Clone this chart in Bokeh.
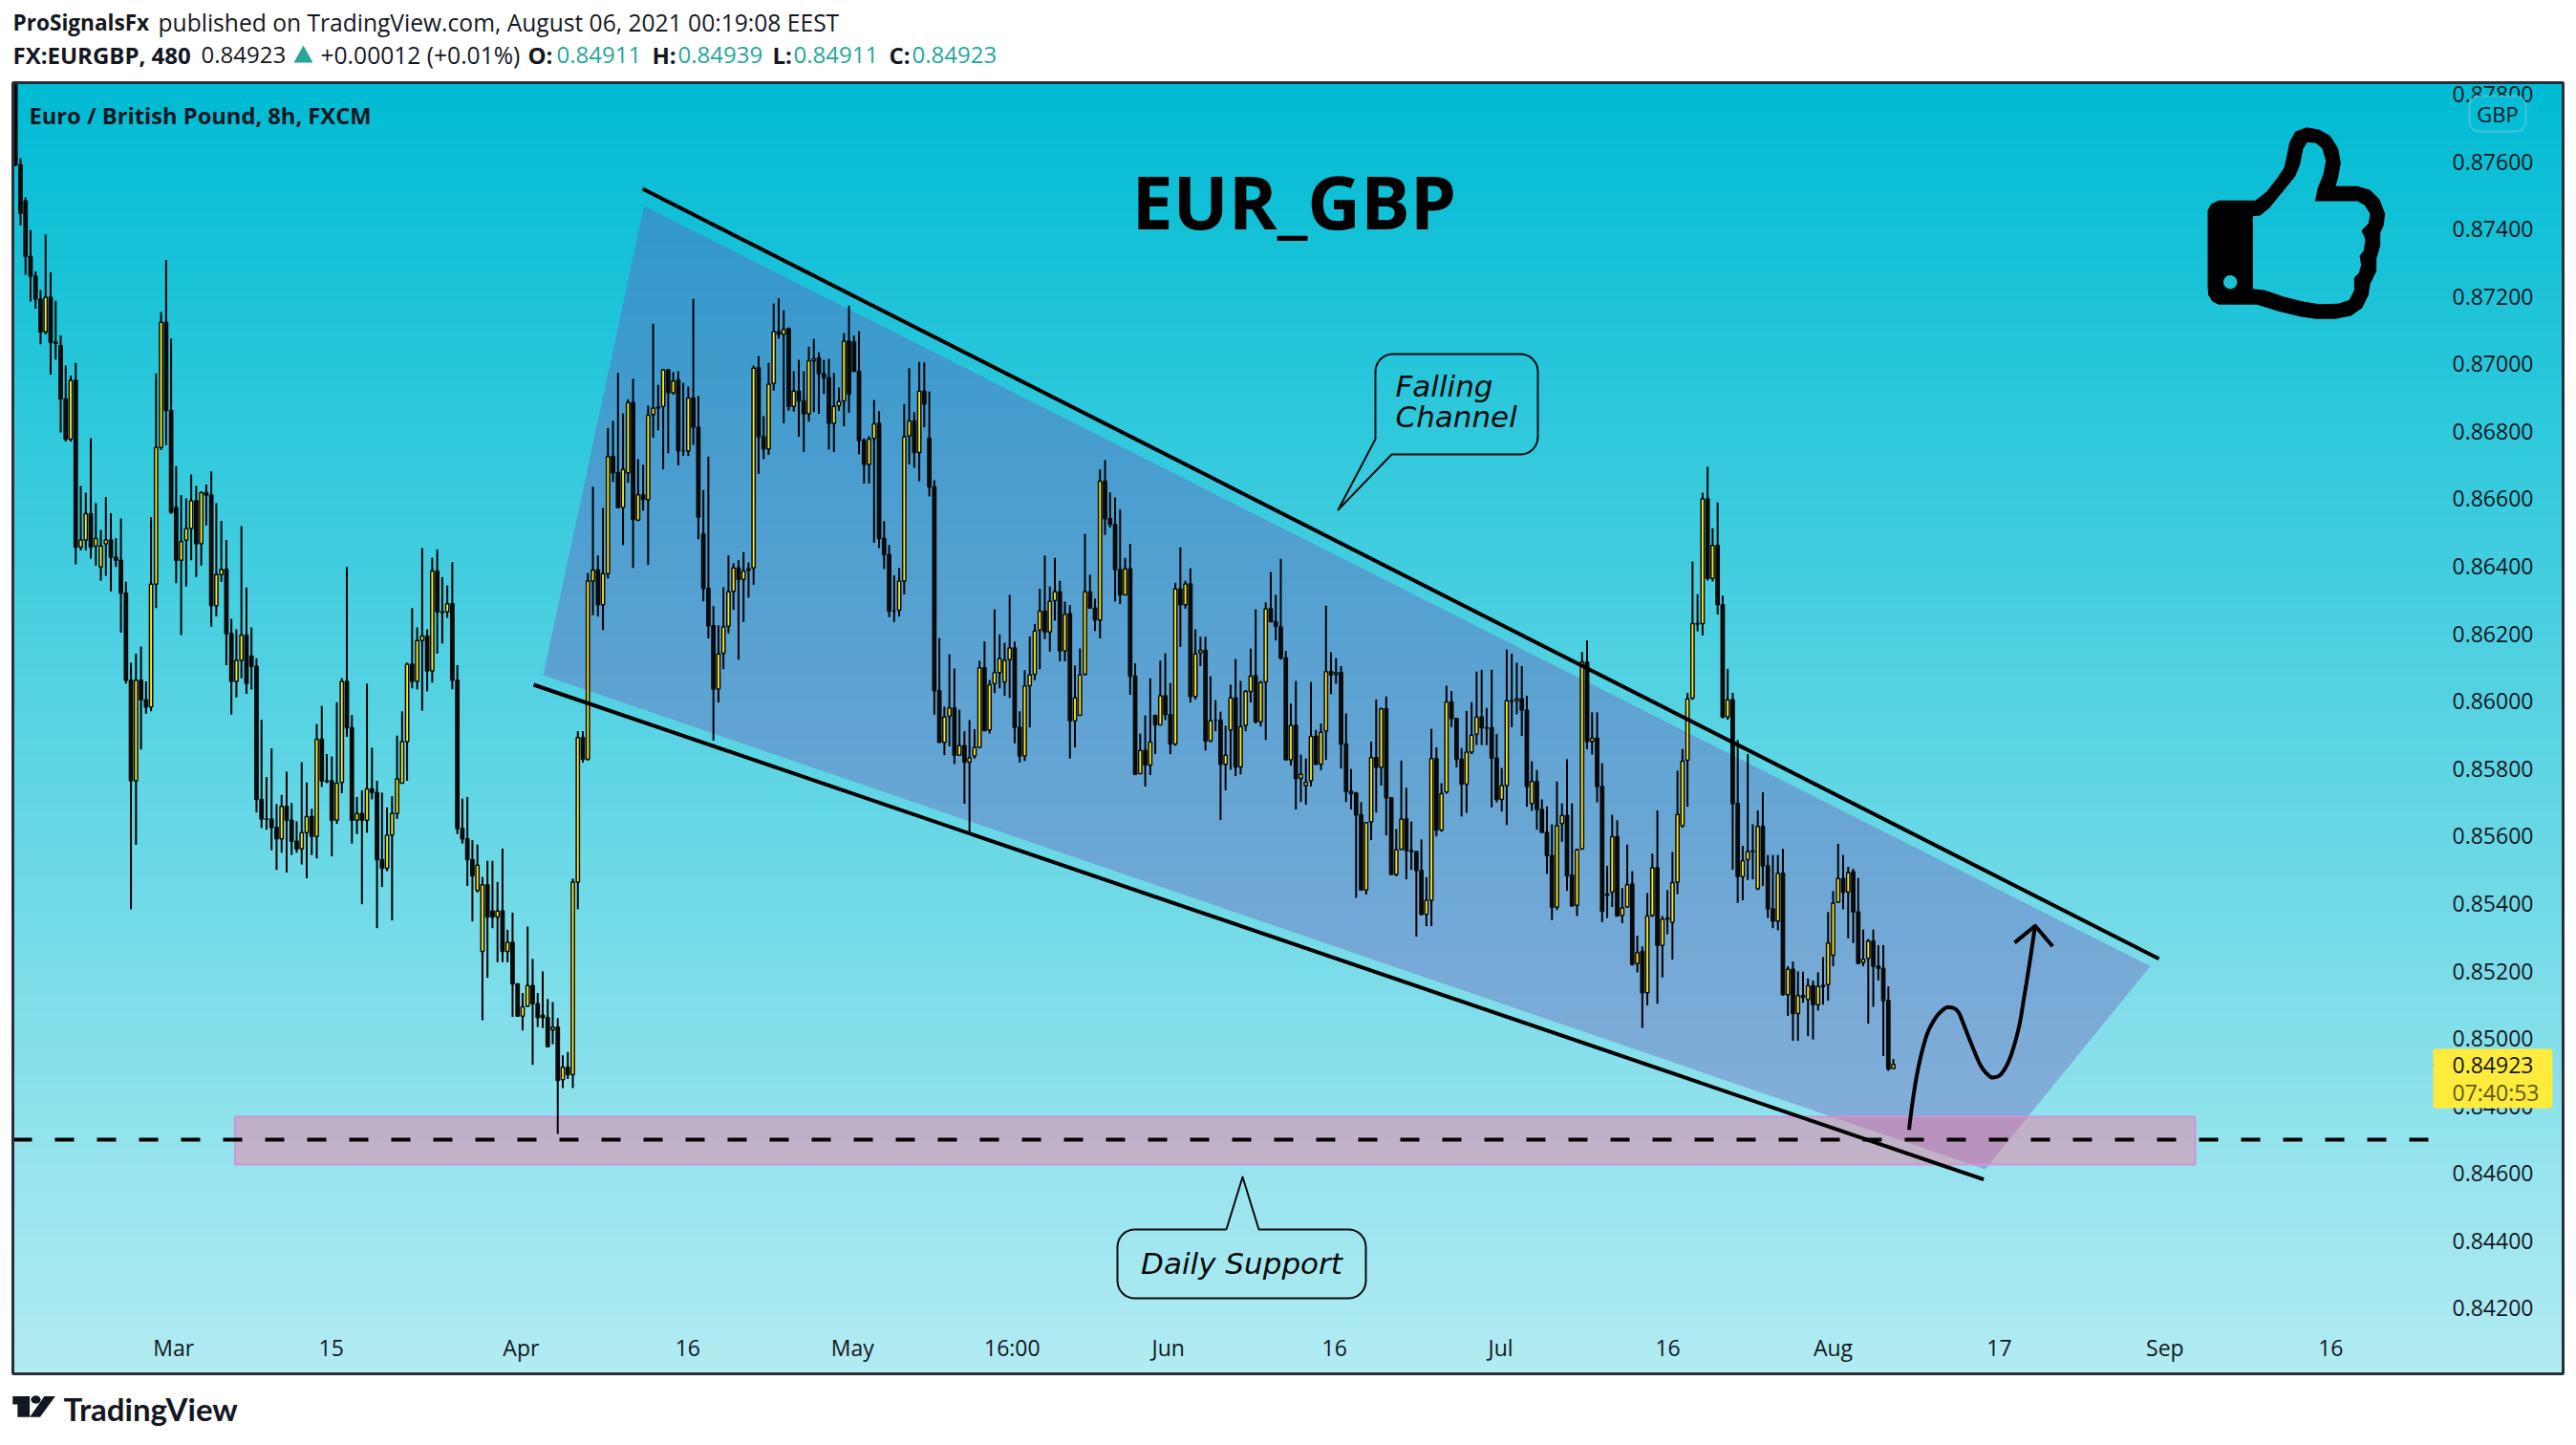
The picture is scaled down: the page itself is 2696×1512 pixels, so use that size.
import numpy as np
from bokeh.plotting import figure
from bokeh.models import (Range1d, FixedTicker, PrintfTickFormatter, Label, BoxAnnotation)
from bokeh.embed import file_html
from bokeh.resources import INLINE

# 8h candles, values in 1e-5 price units
opens = [87834,87590,87483,87319,87260,87192,87095,87198,87064,87054,
86896,86777,86951,86457,86478,86556,86460,86398,86467,86478,
86427,86418,86320,86062,85764,86062,86004,85983,86347,86752,
87123,86862,86574,86418,86477,86512,86594,86467,86618,86611,
86283,86375,86391,86200,86059,86121,86196,86134,86103,85709,
85651,85651,85626,85592,85688,85647,85585,85562,85610,85658,
85599,85887,85764,85764,85647,85759,86059,85921,85647,85667,
85647,85740,85729,85530,85505,85603,85667,85757,85880,86110,
86059,86180,86193,86090,86386,86265,86265,86289,86062,85622,
85592,85530,85439,85258,85456,85378,85360,85378,85258,85285,
85162,85066,85096,85157,85103,85069,85062,85026,85034,84878,
84915,84893,85464,85892,85828,86356,86389,86286,86378,86725,
86677,86574,86677,86885,86537,86612,86598,86850,86869,86874,
86982,86914,86952,86742,86742,86899,86812,86496,86334,86224,
86036,86142,86222,86326,86395,86361,86388,86395,86989,86784,
86748,86942,87096,87088,87105,86874,86919,86890,86852,87009,
87018,86971,86959,86824,86876,86890,87067,87065,86978,86773,
86702,86779,86824,86482,86435,86267,86270,86356,86786,86831,
86737,86919,86779,86635,86031,85878,85955,85980,85840,85868,
85819,85838,85863,86099,85915,86052,86085,86057,86123,86158,
85923,85838,86046,86080,86211,86267,86205,86298,86324,86149,
86260,85942,85958,86080,86324,86276,86241,86652,86541,86524,
86390,86315,86392,86074,85785,85854,85811,85958,85930,86016,
85960,85873,86333,86286,86348,86014,86144,86151,85882,85944,
85944,85813,85915,86010,85805,85928,86029,86076,85939,86057,
86274,86236,86220,86128,85826,85928,85771,85750,85764,85896,
85813,85911,86088,86080,86085,85873,85733,85728,85663,85440,
85642,85833,85804,85977,85714,85486,85561,85651,85557,85554,
85498,85368,85410,85830,85618,85731,85998,85949,85828,85754,
85849,85902,85953,85921,85921,85831,85709,85750,86001,86001,
86007,85974,85697,85762,85679,85611,85542,85389,85637,85661,
85484,85395,85562,86116,85881,85890,85747,85425,85434,85598,
85365,85390,85458,85222,85258,85136,85365,85506,85276,85354,
85345,85464,85631,85825,86009,86230,86230,86600,86364,86462,
86286,85953,86004,85697,85480,85530,85556,85444,85629,85512,
85384,85348,85490,85130,85205,85074,85127,85116,85156,85100,
85154,85160,85247,85404,85474,85434,85494,85375,85226,85238,
85289,85214,85208,85112,84911]

highs = [87834,87610,87494,87397,87274,87219,87384,87271,87187,87084,
86995,86965,87003,86638,86618,86780,86587,86508,86605,86557,
86484,86542,86354,86114,86141,86162,86059,86546,86972,87154,
87308,87075,86697,86611,86601,86672,86638,86622,86642,86681,
86587,86535,86478,86244,86213,86519,86337,86219,86127,85945,
85775,85860,85695,85722,85791,85698,85644,85819,85759,85681,
85932,85986,85843,85836,85997,86068,86398,85959,85716,85736,
86052,85862,85764,85729,85685,85718,85898,85970,86114,86276,
86219,86454,86213,86425,86450,86368,86343,86412,86107,85711,
85716,85588,85575,85479,85527,85527,85464,85563,85322,85373,
85115,85135,85332,85236,85135,85199,85117,85108,85060,84950,
84960,85474,85911,85911,86380,86636,86432,86573,86810,86831,
86973,86853,86895,86956,86718,86701,86876,87119,86938,86984,
86984,86976,86978,86944,86933,87193,86905,86626,86725,86282,
86225,86338,86432,86409,86418,86442,86411,86995,87023,86845,
87003,87179,87195,87159,87108,86978,87012,86978,87051,87074,
87034,87012,87015,86973,86930,87091,87173,87084,87097,86779,
86786,86893,86860,86534,86463,86373,86395,86881,86987,86857,
87006,87004,86918,86655,86187,85984,86139,86097,85975,85911,
85944,85917,86120,86177,86063,86272,86198,86173,86315,86177,
85970,86092,86192,86229,86333,86432,86340,86425,86357,86295,
86285,86106,86156,86496,86375,86304,86687,86715,86619,86604,
86569,86425,86466,86112,85904,85958,86068,85958,86120,86142,
86054,86351,86456,86357,86394,86213,86191,86191,86074,86003,
85969,85927,86049,86125,86060,86033,86156,86272,86060,86293,
86383,86315,86422,86149,85993,86060,85842,85830,86057,85915,
85934,86283,86145,86128,86104,85964,85799,85731,85701,85641,
85880,86005,85981,86014,85714,85621,85824,85743,85643,85554,
85590,85478,85918,85863,85757,86046,86030,85949,85861,85971,
85997,86088,86093,85980,86093,85903,85802,86153,86141,86114,
86104,86016,85822,85796,85709,85688,85635,85762,85697,85828,
85697,85563,86146,86180,85967,85967,85816,85512,85663,85647,
85446,85575,85496,85305,85273,85431,85548,85676,85363,85440,
85553,85794,85858,86025,86414,86317,86618,86695,86513,86589,
86313,86096,86025,85885,85571,85843,85635,85676,85730,85544,
85544,85544,85562,85214,85228,85199,85198,85178,85172,85196,
85241,85375,85437,85577,85544,85509,85503,85476,85323,85295,
85323,85277,85277,85154,84939]

lows = [87586,87411,87264,87185,87164,87058,87088,86968,87013,86797,
86770,86770,86406,86447,86447,86423,86402,86357,86372,86326,
86398,86203,86052,85383,85574,85857,85963,85970,86276,86745,
86759,86556,86350,86196,86340,86418,86368,86402,86521,86221,
86251,86354,86107,85960,86011,86068,86022,86035,85670,85624,
85619,85558,85500,85551,85492,85544,85551,85516,85475,85544,
85534,85746,85757,85540,85636,85727,85894,85578,85606,85398,
85610,85709,85327,85449,85496,85350,85651,85757,85764,86038,
86035,85972,86029,86055,86141,86171,86247,86035,85606,85578,
85452,85347,85433,85054,85180,85327,85226,85226,85226,85064,
85064,85024,85094,84922,85034,85031,84973,84983,84717,84853,
84880,84853,85383,85818,85824,86255,86251,86211,86364,86650,
86572,86463,86647,86395,86534,86565,86404,86781,86803,86687,
86735,86909,86699,86727,86727,86760,86480,86296,86186,85883,
85996,86095,86201,86271,86123,86235,86307,86345,86674,86718,
86730,86921,87075,86824,86861,86859,86784,86739,86829,86857,
86852,86911,86746,86739,86861,86815,86855,86978,86732,86645,
86645,86470,86454,86392,86249,86235,86251,86317,86702,86692,
86652,86812,86607,85960,85878,85840,85866,85814,85840,85696,
85613,85830,85861,85911,85904,86024,86038,86016,86010,85875,
85818,85823,85922,86062,86095,86184,86147,86239,86118,86118,
85830,85863,85958,86076,86274,86208,86186,86493,86515,86296,
86288,86315,86019,85783,85785,85747,85781,85843,85930,85944,
85843,85868,86161,86274,85996,86005,86104,85854,85878,85911,
85648,85736,85797,85778,85783,85911,85996,85934,85925,85885,
86234,86180,86123,85826,85809,85679,85701,85693,85747,85813,
85795,85826,86021,86052,85800,85701,85679,85417,85439,85427,
85588,85670,85750,85602,85486,85481,85559,85472,85500,85302,
85365,85333,85333,85599,85613,85726,85923,85804,85658,85669,
85843,85870,85870,85870,85685,85700,85673,85633,85923,85961,
85897,85687,85675,85619,85611,85488,85351,85381,85583,85438,
85393,85363,85559,85858,85842,85700,85345,85357,85390,85363,
85342,85387,85216,85196,85031,85098,85360,85103,85181,85309,
85234,85428,85625,85687,86004,86207,86195,86358,86355,86257,
85949,85945,85500,85402,85410,85470,85472,85440,85452,85357,
85327,85321,85127,85067,84993,84993,85106,85007,84997,85083,
85100,85112,85214,85402,85383,85297,85283,85220,85214,85044,
85094,85172,84948,84904,84911]

closes = [87590,87446,87319,87260,87192,87095,87198,87064,87061,86896,
86777,86951,86457,86478,86556,86457,86482,86460,86478,86427,
86418,86320,86062,85764,86062,86004,85983,86347,86752,87123,
86862,86560,86418,86473,86512,86594,86467,86618,86611,86283,
86375,86391,86200,86059,86121,86196,86052,86103,85709,85651,
85650,85626,85592,85688,85647,85585,85562,85610,85658,85599,
85887,85764,85762,85647,85757,86059,85921,85647,85667,85647,
85740,85729,85530,85505,85603,85667,85770,85880,86110,86059,
86180,86193,86090,86386,86265,86263,86289,86062,85622,85592,
85530,85482,85514,85456,85360,85360,85378,85258,85285,85162,
85066,85094,85157,85103,85062,85062,84976,85034,84876,84915,
84893,85464,85892,85828,86356,86389,86286,86378,86725,86677,
86574,86687,86885,86539,86612,86598,86848,86869,86872,86982,
86914,86949,86742,86742,86899,86812,86546,86334,86224,86036,
86140,86220,86324,86395,86361,86386,86392,86987,86784,86748,
86940,87096,87088,87102,86874,86919,86890,86852,87009,87015,
86971,86959,86824,86874,86888,87067,86911,86978,86773,86702,
86777,86822,86482,86435,86267,86267,86356,86784,86831,86737,
86919,86881,86635,86031,85878,85953,85980,85840,85868,85819,
85832,85863,86099,85913,86049,86085,86126,86121,86158,85923,
85838,86045,86078,86208,86267,86205,86296,86324,86149,86258,
85942,86010,86078,86324,86276,86241,86652,86541,86524,86390,
86315,86392,86074,85783,85854,85811,85879,85930,86016,85960,
85873,86333,86286,86348,86014,86140,86151,85882,85942,85944,
85813,85840,86010,85805,85925,86029,86074,85939,86055,86274,
86236,86222,86128,85826,85928,85771,85783,85760,85896,85813,
85908,86088,86078,86085,85873,85733,85726,85663,85440,85640,
85833,85804,85977,85714,85486,85559,85651,85557,85554,85498,
85368,85410,85830,85618,85726,85998,85949,85828,85754,85849,
85899,85953,85921,85920,85831,85709,85750,86001,86000,86007,
85974,85747,85762,85679,85611,85542,85389,85631,85661,85482,
85393,85559,86116,85881,85890,85747,85377,85428,85598,85363,
85387,85456,85220,85255,85136,85363,85506,85276,85354,85357,
85462,85664,85822,86007,86230,86229,86600,86364,86462,86286,
85953,86004,85697,85480,85527,85554,85554,85629,85512,85384,
85348,85490,85130,85205,85074,85127,85122,85156,85100,85154,
85158,85283,85401,85474,85434,85491,85375,85223,85235,85289,
85214,85208,85112,84910,84923]

y_ticks = [0.842,0.844,0.846,0.848,0.850,0.852,0.854,0.856,0.858,0.860,0.862,0.864,
           0.866,0.868,0.870,0.872,0.874,0.876,0.878]
x_tick_positions = [31.5,62.9,100.7,133.9,166.7,198.5,229.6,262.7,295.8,329.1,362.0,395.1,428.1,461.1]
x_tick_labels = ["Mar","15","Apr","16","May","16:00","Jun","16","Jul","16","Aug","17","Sep","16"]

support_price = 0.847
last_price = 0.84923

INK = "#131722"
TEAL = "#26a69a"
SANS = "Open Sans"
CW, CH = 2690, 1506
PANE_L, PANE_R, PANE_T, PANE_B = 13, 2682, 86, 1437

def X(px):            # picture column -> bar number
    return (np.asarray(px, dtype=float) - 15.7) / 5.255
def Y(py):            # picture row -> price
    return 0.876 - (np.asarray(py, dtype=float) - 168.5) / 35294.0

o, h, l, c = [np.array(a) / 1e5 for a in (opens, highs, lows, closes)]
idx = np.arange(len(o))
up = c >= o

p = figure(width=CW, height=CH, output_backend="svg", toolbar_location=None,
           x_range=Range1d(float(X(0)), float(X(CW))), y_range=Range1d(float(Y(CH)), float(Y(0))),
           min_border_left=0, min_border_right=0, min_border_top=0, min_border_bottom=0,
           y_axis_location="right", background_fill_color="white", border_fill_color="white")
p.grid.visible = False
p.outline_line_color = None

# background gradient of the pane
top_c, bot_c = np.array([0, 188, 212]), np.array([179, 236, 243])
n = 338
img = np.zeros((n, 1), dtype=np.uint32)
view = img.view(np.uint8).reshape((n, 1, 4))
for r in range(n):
    t = r / (n - 1)
    view[r, 0, :3] = (bot_c * (1 - t) + top_c * t).astype(np.uint8)
    view[r, 0, 3] = 255
p.image_rgba(image=[img], x=float(X(PANE_L)), y=float(Y(PANE_B)), dw=float(X(PANE_R) - X(PANE_L)), dh=float(Y(PANE_T) - Y(PANE_B)))

# channel
p.patch(X([673.6, 2250, 2077, 568]), Y([215, 1010.5, 1223, 706]), fill_color="#6f50b8", fill_alpha=0.36, line_alpha=0)

# support zone
p.quad(left=X(245.5), right=X(2297), top=Y(1168), bottom=Y(1218), fill_color="#ff6e96", fill_alpha=0.42,
       line_color="#ce93d8", line_width=2)

# candles
p.segment(idx, h, idx, l, line_color="#000000", line_width=2)
bw = 3.3 / 5.255
p.vbar(idx[up], bw, c[up], o[up], fill_color="#ffeb1a", line_color="#0a0a0a", line_width=1.5)
p.vbar(idx[~up], bw, o[~up], c[~up], fill_color="#0a0a0a", line_color="#0a0a0a", line_width=1.5)

# trend lines
p.line(X([672, 2259]), Y([197, 1002.7]), line_color="black", line_width=4)
p.line(X([558, 2075.6]), Y([716, 1233.7]), line_color="black", line_width=4)
p.line(X([PANE_L, 2542]), [support_price, support_price], line_color="black", line_width=4, line_dash="20 24")

# forecast curve
cx = np.array([192,200,212,228,245,262,275,292,305,320,340,358,367,382,400,418,430,440,452.])
cy = np.array([722,640,550,470,425,400,393,403,440,490,550,578,581,572,530,450,360,280,175.])
wx, wy = 1900 + cx / 1.97, 900 + cy / 2.562
def smooth(a):
    a = np.r_[a[0], a, a[-1]]
    out = []
    for i in range(1, len(a) - 2):
        for t in np.linspace(0, 1, 8, endpoint=False):
            out.append(0.5 * (2*a[i] + (a[i+1]-a[i-1])*t + (2*a[i-1]-5*a[i]+4*a[i+1]-a[i+2])*t*t + (3*a[i]-a[i-1]-3*a[i+1]+a[i+2])*t**3))
    out.append(a[-2])
    return np.array(out)
p.line(X(smooth(wx)), Y(smooth(wy)), line_color="black", line_width=4, line_join="round")
p.line(X([2108, 2129.5, 2147.7]), Y([985.9, 968.3, 989.8]), line_color="black", line_width=4, line_join="round")

# callouts
def arc_pts(cx_, cy_, rad, a0, a1):
    return [(cx_ + rad*np.cos(a), cy_ + rad*np.sin(a)) for a in np.linspace(a0, a1, 7)]
def callout_falling():
    l_, t_, r_, b_, rad = 1439, 370, 1609, 475, 18
    pts = [(l_, 459), (1400, 533), (1456, b_)]
    pts += arc_pts(r_-rad, b_-rad, rad, np.pi/2, 0)
    pts += arc_pts(r_-rad, t_+rad, rad, 0, -np.pi/2)
    pts += arc_pts(l_+rad, t_+rad, rad, -np.pi/2, -np.pi)
    pts.append((l_, 459))
    return np.array(pts)
def callout_daily():
    l_, t_, r_, b_, rad = 1169, 1286, 1429, 1358, 18
    pts = [(1283, t_), (1300, 1231), (1317, t_)]
    pts += arc_pts(r_-rad, t_+rad, rad, -np.pi/2, 0)
    pts += arc_pts(r_-rad, b_-rad, rad, 0, np.pi/2)
    pts += arc_pts(l_+rad, b_-rad, rad, np.pi/2, np.pi)
    pts += arc_pts(l_+rad, t_+rad, rad, np.pi, 1.5*np.pi)
    pts.append((1283, t_))
    return np.array(pts)
for path in (callout_falling(), callout_daily()):
    p.line(X(path[:, 0]), Y(path[:, 1]), line_color="#0a0a0a", line_width=2, line_join="round")

# thumb icon
tx = [215,330,365,400,420,428,437,455,490,530,565,590,598,590,582,650,690,720,737,733,722,722,710,710,690,685,665,630,580,520,470,400,335,215,195,182,180,180,190]
ty = [448,448,420,375,345,310,265,232,218,225,245,285,330,375,403,403,415,445,490,525,550,590,630,670,710,745,785,810,820,820,812,795,775,775,765,745,720,480,460]
ix = [322,345,375,420,455,470,480,493,520,540,551,543,525,517,650,672,690,685,663,675,670,657,662,655,640,640,625,590,530,480,420,360,322]
iy = [497,495,470,415,372,335,285,265,268,285,325,365,410,450,450,462,490,520,542,570,605,622,650,675,690,730,760,772,773,765,750,730,725]
ang = np.linspace(0, 2*np.pi, 14)[:-1]
hx, hy = 251 + 22*np.cos(ang), 704 + 22*np.sin(ang)
def ic(a, b):
    return list(X(2250 + np.array(a)/3.0)), list(Y(60 + np.array(b)/3.0))
ox_, oy_ = ic(tx, ty); ix_, iy_ = ic(ix, iy); hx_, hy_ = ic(hx, hy)
p.multi_polygons(xs=[[[ox_, ix_, hx_]]], ys=[[[oy_, iy_, hy_]]], fill_color="black", line_alpha=0)

# pane border
p.quad(left=X(PANE_L), right=X(PANE_R), top=Y(PANE_T), bottom=Y(PANE_B), fill_alpha=0, line_color="#2a2e39", line_width=3)

# axes
ya = p.yaxis[0]
ya.ticker = FixedTicker(ticks=y_ticks)
ya.formatter = PrintfTickFormatter(format="%.5f")
ya.major_label_standoff = -130
ya.major_tick_line_color = None; ya.minor_tick_line_color = None; ya.axis_line_color = None
ya.major_label_text_font = SANS; ya.major_label_text_font_size = "23px"; ya.major_label_text_color = INK
xa = p.xaxis[0]
xa.ticker = FixedTicker(ticks=x_tick_positions)
xa.major_label_overrides = dict(zip(x_tick_positions, x_tick_labels))
xa.major_label_standoff = -119
xa.major_tick_line_color = None; xa.minor_tick_line_color = None; xa.axis_line_color = None
xa.major_label_text_font = SANS; xa.major_label_text_font_size = "23px"; xa.major_label_text_color = INK

def txt(s, px, py, size, color=INK, style="normal", font=SANS, align="left", level="overlay"):
    p.add_layout(Label(x=float(X(px)), y=float(Y(py)), text=s, text_font_size=f"{size}px", text_color=color,
                       text_font_style=style, text_font=font, text_align=align, text_baseline="middle", level=level))

# price tag and currency badge
p.add_layout(BoxAnnotation(left=float(X(2584)), right=float(X(2643)), top=float(Y(100)), bottom=float(Y(137)),
                           fill_color="#04bdd7", fill_alpha=1, line_color="#d1d4dc", line_width=2, border_radius=10, level="overlay"))
txt("GBP", 2613.5, 118, 22, align="center")
p.add_layout(BoxAnnotation(left=float(X(2546)), right=float(X(2671)), top=float(Y(1097)), bottom=float(Y(1159)),
                           fill_color="#ffeb3b", fill_alpha=1, line_alpha=0, border_radius=3, level="overlay"))
txt("0.84923", 2566, 1114, 23)
txt("07:40:53", 2566, 1142, 23, color="#5f5a14")
p.segment(X([2546]), [last_price], X([2556]), [last_price], line_color="#131722", line_width=2, level="overlay")

# chart texts
txt("Euro / British Pound, 8h, FXCM", 30, 120, 23.7, style="bold", color="#131722")
txt("EUR_GBP", 1184, 210, 77, color="black", style="bold")
txt("Falling", 1460, 403.5, 31, color="#0a0a0a", style="italic", font="DejaVu Sans")
txt("Channel", 1460, 435.5, 31, color="#0a0a0a", style="italic", font="DejaVu Sans")
txt("Daily Support", 1299, 1321, 31, color="#0a0a0a", style="italic", font="DejaVu Sans", align="center")

# header
txt("ProSignalsFx", 13, 23, 22.6, style="bold")
txt("published on TradingView.com, August 06, 2021 00:19:08 EEST", 165, 23, 24.6)
txt("FX:EURGBP, 480", 13, 57, 24, style="bold")
txt("0.84923", 210, 57, 24)
txt("+0.00012 (+0.01%)", 335, 57, 24.6)
for lab, lx, val, vx in (("O:", 552, "0.84911", 582), ("H:", 682, "0.84939", 709), ("L:", 808, "0.84911", 830), ("C:", 930, "0.84923", 954)):
    txt(lab, lx, 57, 24, style="bold")
    txt(val, vx, 57, 24, color=TEAL)
p.patch(X([307, 317, 327]), Y([65, 47, 65]), fill_color=TEAL, line_alpha=0)

# TradingView mark
def poly(xs_, ys_):
    p.patch(X(np.array(xs_)/1.568), Y(1100 + np.array(ys_)/3.03), fill_color=INK, line_alpha=0)
poly([20, 48, 48, 28, 28, 20], [1092, 1092, 1158, 1158, 1118, 1118])
a2 = np.linspace(0, 2*np.pi, 13)[:-1]
poly(58 + 8*np.cos(a2), 1103 + 13*np.sin(a2))
poly([72, 90, 65, 48], [1092, 1092, 1158, 1158])
txt("TradingView", 66, 1473, 33, font="Lato", style="bold")

open("out.html", "w").write(file_html(p, INLINE))
